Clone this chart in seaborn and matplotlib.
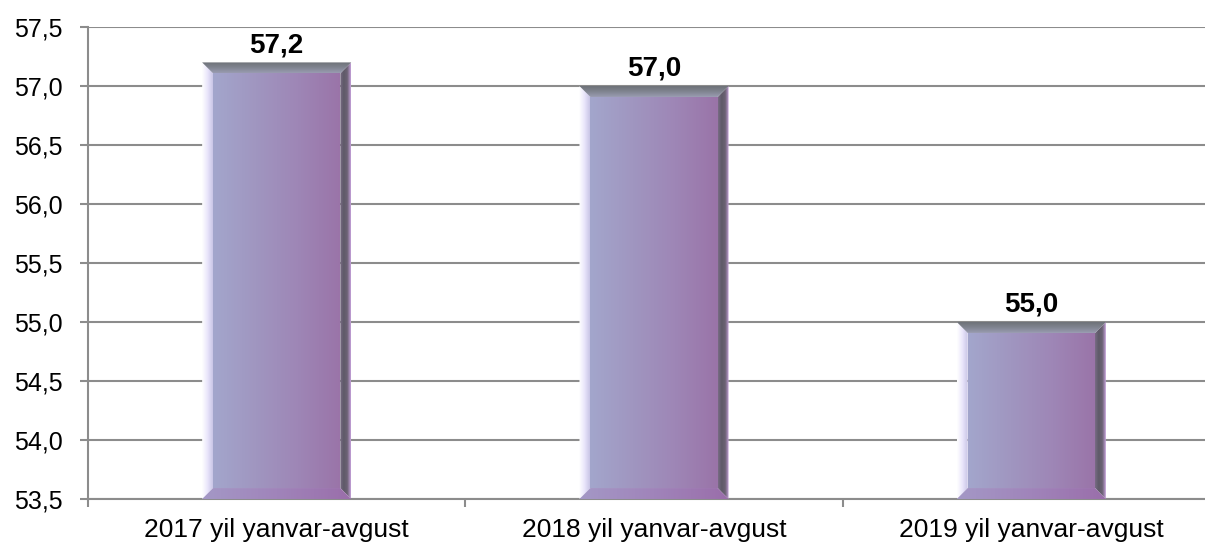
import numpy as np
import pandas as pd
import seaborn as sns
import matplotlib.pyplot as plt
from matplotlib.ticker import FuncFormatter, FixedLocator
from matplotlib.patches import Polygon
from matplotlib.colors import LinearSegmentedColormap

categories = ['2017 yil yanvar-avgust', '2018 yil yanvar-avgust', '2019 yil yanvar-avgust']
values = [57.2, 57.0, 55.0]
bar_labels = ['57,2', '57,0', '55,0']

sns.set_style('white')
plt.rcParams['font.family'] = ['Liberation Sans', 'DejaVu Sans']

df = pd.DataFrame({'period': categories, 'value': values})

fig = plt.figure(figsize=(12.05, 5.45), dpi=100)
ax = fig.add_axes([88 / 1205, 46 / 545, (1220 - 88) / 1205, (499 - 27) / 545])

sns.barplot(data=df, x='period', y='value', width=0.395, color='#a29ac0',
            ax=ax, zorder=3, linewidth=0)
ymin = 53.5
ax.set_ylim(ymin, 57.5)
ax.set_xlim(-0.5, 2.5)


def grad_fill(verts, colors, z, vertical=False):
    poly = Polygon(verts, closed=True, facecolor='none', lw=0, zorder=z)
    ax.add_patch(poly)
    xs = [v[0] for v in verts]
    ys = [v[1] for v in verts]
    cmap = LinearSegmentedColormap.from_list('g', colors)
    g = np.linspace(0, 1, 256)
    arr = g[:, None] if vertical else g[None, :]
    im = ax.imshow(arr, cmap=cmap, aspect='auto', origin='lower',
                   extent=[min(xs), max(xs), min(ys), max(ys)],
                   zorder=z, interpolation='bilinear')
    im.set_clip_path(poly)


face = ['#a3a6cc', '#a096c0', '#9e86b6', '#9a74a8']
for p, lab in zip(ax.patches, bar_labels):
    x0, w = p.get_x(), p.get_width()
    top = p.get_height()
    p.set_facecolor('none')
    x1 = x0 + w
    dx = w * 0.073
    dy = 0.093
    # front face
    grad_fill([[x0 + dx, ymin + dy], [x1 - dx, ymin + dy], [x1 - dx, top - dy], [x0 + dx, top - dy]],
              face, 3)
    # left bevel (lit)
    grad_fill([[x0, top], [x0 + dx, top - dy], [x0 + dx, ymin + dy], [x0, ymin]],
              ['#ffffff', '#eae6fb', '#c8c4e6'], 4)
    # right bevel (shaded)
    grad_fill([[x1 - dx, top - dy], [x1, top], [x1, ymin], [x1 - dx, ymin + dy]],
              ['#7a6c86', '#5e5a68', '#6c6274', '#c6a2dc'], 4)
    # top bevel
    grad_fill([[x0, top], [x1, top], [x1 - dx, top - dy], [x0 + dx, top - dy]],
              ['#9a9cb2', '#808490', '#6e7278'], 5, vertical=True)
    # bottom bevel
    grad_fill([[x0, ymin], [x1, ymin], [x1 - dx, ymin + dy], [x0 + dx, ymin + dy]],
              ['#a498c6', '#a084ba', '#9a6eaa'], 5)
    ax.text(x0 + w / 2, top + 0.035, lab, ha='center', va='bottom',
            fontsize=20, fontweight='bold', color='black', zorder=6)

ax.set_xlabel('')
ax.set_ylabel('')
ax.yaxis.set_major_locator(FixedLocator(np.arange(53.5, 57.51, 0.5)))
ax.yaxis.set_major_formatter(FuncFormatter(lambda v, _: f'{v:.1f}'.replace('.', ',')))
ax.grid(axis='y', color='#8c8c8c', linewidth=1.5, zorder=0)
ax.set_axisbelow(True)

for s in ['top', 'right']:
    ax.spines[s].set_visible(False)
for s in ['left', 'bottom']:
    ax.spines[s].set_color('#8c8c8c')
    ax.spines[s].set_linewidth(1.5)

ax.tick_params(axis='y', which='major', direction='out', length=6, width=1.5,
               color='#8c8c8c', labelcolor='black', labelsize=18, pad=12, left=True)
ax.set_xticks([0, 1, 2])
ax.set_xticklabels(categories)
ax.set_xticks([-0.5, 0.5, 1.5, 2.5], minor=True)
ax.tick_params(axis='x', which='major', length=0, labelsize=19, labelcolor='black', pad=14)
ax.tick_params(axis='x', which='minor', direction='out', length=6, width=1.5,
               color='#8c8c8c', bottom=True)

fig.savefig('out.png', dpi=100)
